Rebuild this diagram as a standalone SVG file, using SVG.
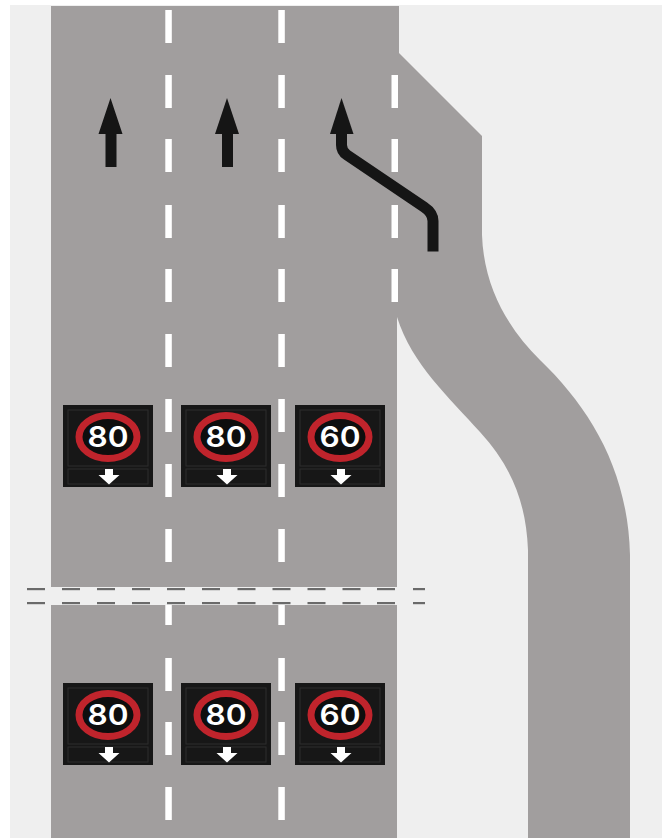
<svg xmlns="http://www.w3.org/2000/svg" xmlns:xlink="http://www.w3.org/1999/xlink" width="662" height="838" viewBox="0 0 662 838">
<style>
.road{fill:#a19e9e}
.lane{fill:#fff}
.gapd{fill:#6a6a6a}
.ink{fill:#151515}
.ink-s{fill:none;stroke:#151515;stroke-width:11}
.board{fill:#171717}
.frame{fill:none;stroke:#2e2e2e;stroke-width:1}
.ring{fill:#0e0e0e;stroke:#c0242c;stroke-width:7}
.num{font-family:"Inter",sans-serif;font-weight:600;font-size:28px;fill:#fff;text-anchor:middle}
.down{fill:#fff}
</style>
<defs>
<rect id="d" class="lane" x="-3.2" y="0" width="6.5" height="33"/>
<rect id="g" class="gapd" x="0" y="0" width="18" height="2.2"/>
<g id="panel">
<rect class="board" x="0" y="0" width="90" height="82"/>
<rect class="frame" x="5" y="5" width="80" height="56"/>
<rect class="frame" x="5" y="64" width="80" height="15"/>
<polygon class="down" points="42,64 50,64 50,70 56.500,70 46,79.500 35.500,70 42,70"/>
</g>
</defs>
<rect width="662" height="838" fill="#fff"/>
<rect x="10" y="5" width="652" height="833" fill="#efefef"/>
<g id="road">
<path class="road" d="M51 6H399V53L482 136V235C484 290 510 330 540 360C590 408 628 470 630 555V838H528V550C526 500 510 465 480 432C450 398 412 365 397 317V838H51Z"/>
<rect x="10" y="587" width="420" height="18" fill="#efefef"/>
</g>
<g id="lanes">
<use xlink:href="#d" x="168.5" y="10"/><use xlink:href="#d" x="168.5" y="75"/><use xlink:href="#d" x="168.5" y="139"/><use xlink:href="#d" x="168.5" y="205"/><use xlink:href="#d" x="168.5" y="269"/><use xlink:href="#d" x="168.5" y="334"/><use xlink:href="#d" x="168.5" y="399"/><use xlink:href="#d" x="168.5" y="464"/><use xlink:href="#d" x="168.5" y="529"/>
<rect class="lane" x="165.3" y="605" width="6.5" height="20"/><use xlink:href="#d" x="168.5" y="658"/><use xlink:href="#d" x="168.5" y="722"/><use xlink:href="#d" x="168.5" y="787"/>
<use xlink:href="#d" x="281.5" y="10"/><use xlink:href="#d" x="281.5" y="75"/><use xlink:href="#d" x="281.5" y="139"/><use xlink:href="#d" x="281.5" y="205"/><use xlink:href="#d" x="281.5" y="269"/><use xlink:href="#d" x="281.5" y="334"/><use xlink:href="#d" x="281.5" y="399"/><use xlink:href="#d" x="281.5" y="464"/><use xlink:href="#d" x="281.5" y="529"/>
<rect class="lane" x="278.3" y="605" width="6.5" height="20"/><use xlink:href="#d" x="281.5" y="658"/><use xlink:href="#d" x="281.5" y="722"/><use xlink:href="#d" x="281.5" y="787"/>
<use xlink:href="#d" x="394.7" y="75"/><use xlink:href="#d" x="394.7" y="139"/><use xlink:href="#d" x="394.7" y="205"/><use xlink:href="#d" x="394.7" y="269"/>
</g>
<g id="gap-lines">
<use xlink:href="#g" x="27" y="588"/><use xlink:href="#g" x="62" y="588"/><use xlink:href="#g" x="97" y="588"/><use xlink:href="#g" x="132" y="588"/><use xlink:href="#g" x="167" y="588"/><use xlink:href="#g" x="202" y="588"/><use xlink:href="#g" x="237.500" y="588"/><use xlink:href="#g" x="272.500" y="588"/><use xlink:href="#g" x="307.500" y="588"/><use xlink:href="#g" x="342.500" y="588"/><use xlink:href="#g" x="377" y="588"/><rect class="gapd" x="413" y="588" width="12" height="2.200"/>
<use xlink:href="#g" x="27" y="602"/><use xlink:href="#g" x="62" y="602"/><use xlink:href="#g" x="97" y="602"/><use xlink:href="#g" x="132" y="602"/><use xlink:href="#g" x="167" y="602"/><use xlink:href="#g" x="202" y="602"/><use xlink:href="#g" x="237.500" y="602"/><use xlink:href="#g" x="272.500" y="602"/><use xlink:href="#g" x="307.500" y="602"/><use xlink:href="#g" x="342.500" y="602"/><use xlink:href="#g" x="377" y="602"/><rect class="gapd" x="413" y="602" width="12" height="2.200"/>
</g>
<g id="arrow-lane-1"><polygon class="ink" points="110.500,98 122.500,134 116.500,134 116.500,167 105.500,167 105.500,134 98.500,134"/></g>
<g id="arrow-lane-2"><polygon class="ink" points="227,98 239,134 233,134 233,167 222,167 222,134 215,134"/></g>
<g id="arrow-lane-3"><polygon class="ink" points="341.500,98 353.500,134 330,134"/><path class="ink-s" d="M341.500 132V145C341.500 150 344 153 347 155L424 207C430 211 433 215 433 221V251.500"/></g>
<g id="sign-1" transform="translate(63 405)"><use xlink:href="#panel"/><ellipse class="ring" cx="45" cy="32" rx="29" ry="21.500"/><text class="num" x="45" y="42" textLength="41" lengthAdjust="spacingAndGlyphs">80</text></g>
<g id="sign-2" transform="translate(181 405)"><use xlink:href="#panel"/><ellipse class="ring" cx="45" cy="32" rx="29" ry="21.500"/><text class="num" x="45" y="42" textLength="41" lengthAdjust="spacingAndGlyphs">80</text></g>
<g id="sign-3" transform="translate(295 405)"><use xlink:href="#panel"/><ellipse class="ring" cx="45" cy="32" rx="29" ry="21.500"/><text class="num" x="45" y="42" textLength="41" lengthAdjust="spacingAndGlyphs">60</text></g>
<g id="sign-4" transform="translate(63 683)"><use xlink:href="#panel"/><ellipse class="ring" cx="45" cy="32" rx="29" ry="21.500"/><text class="num" x="45" y="42" textLength="41" lengthAdjust="spacingAndGlyphs">80</text></g>
<g id="sign-5" transform="translate(181 683)"><use xlink:href="#panel"/><ellipse class="ring" cx="45" cy="32" rx="29" ry="21.500"/><text class="num" x="45" y="42" textLength="41" lengthAdjust="spacingAndGlyphs">80</text></g>
<g id="sign-6" transform="translate(295 683)"><use xlink:href="#panel"/><ellipse class="ring" cx="45" cy="32" rx="29" ry="21.500"/><text class="num" x="45" y="42" textLength="41" lengthAdjust="spacingAndGlyphs">60</text></g>
</svg>
